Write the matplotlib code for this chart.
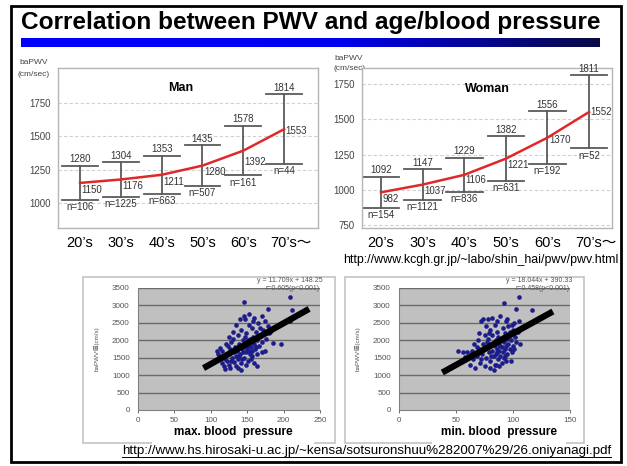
import matplotlib
matplotlib.use('Agg')
import matplotlib.pyplot as plt
import numpy as np
from matplotlib.colors import LinearSegmentedColormap
from matplotlib.patches import Rectangle
import matplotlib.transforms as mtrans

# ---------------- data ----------------
age_groups = ["20\u2019s", "30\u2019s", "40\u2019s", "50\u2019s", "60\u2019s", "70\u2019s\uff5e"]

man_mean = [1150, 1176, 1211, 1280, 1392, 1553]
man_upper = [1280, 1304, 1353, 1435, 1578, 1814]
man_n = [106, 1225, 663, 507, 161, 44]

woman_mean = [982, 1037, 1106, 1221, 1370, 1552]
woman_upper = [1092, 1147, 1229, 1382, 1556, 1811]
woman_n = [154, 1121, 836, 631, 192, 52]

age_yticks_man = [1000, 1250, 1500, 1750]
age_yticks_woman = [750, 1000, 1250, 1500, 1750]

sys_bp = [145, 209, 179, 211, 209, 186, 197, 163,
          108, 110, 112, 115, 113, 117, 118, 120, 122, 124, 121, 125, 127, 129, 126, 130,
          132, 128, 131, 133, 135, 134, 136, 138, 137, 139, 140, 141, 142, 143, 144, 145,
          146, 147, 148, 149, 150, 151, 152, 153, 154, 155, 156, 157, 158, 159, 160, 161,
          162, 163, 164, 165, 166, 168, 170, 172, 174, 176, 178, 180, 182, 140, 135, 130,
          125, 145, 152, 158, 148, 155, 160, 142, 137, 150, 146, 144, 153, 157, 141, 139,
          133, 147, 151, 154, 143, 149, 156, 162, 167, 171, 119, 116, 123, 128, 170, 175]
sys_pwv = [3085, 3250, 2910, 2865, 2560, 1910, 1890, 1250,
           1700, 1620, 1480, 1350, 1780, 1550, 1250, 1180, 1420, 1600, 1900, 1300, 1200, 1500, 1750, 1650,
           1380, 1950, 2050, 1820, 1550, 1250, 1700, 2150, 1450, 1900, 1600, 1350, 2300, 1750, 2000, 1500,
           1850, 2600, 1650, 2200, 1950, 1400, 2450, 1700, 2050, 1800, 2350, 1550, 2100, 1900, 2650, 1750,
           2250, 2000, 1600, 2500, 1850, 2150, 1950, 2300, 1700, 2050, 2400, 2200, 2250, 2600, 2450, 2250,
           2100, 2700, 2750, 2550, 1300, 1450, 1350, 1150, 1200, 1750, 1900, 1650, 1850, 1950, 1800, 1550,
           1700, 2100, 2000, 1600, 1450, 1800, 1700, 1800, 2350, 1650, 1450, 1700, 1850, 1400, 2700, 2550]

dia_bp = [92, 105, 103, 117, 105, 106, 52, 56, 58,
          62, 65, 64, 66, 68, 67, 69, 70, 71, 72, 73, 74, 75, 75, 76, 77, 78, 78, 79, 80,
          80, 81, 82, 82, 83, 84, 84, 85, 85, 86, 86, 87, 87, 88, 88, 89, 89, 90, 90, 91,
          91, 92, 92, 93, 93, 94, 94, 95, 95, 96, 96, 97, 97, 98, 99, 100, 100, 101, 102, 103,
          104, 88, 85, 80, 90, 83, 76, 74, 82, 86, 95, 99, 98, 70, 68, 72, 79, 84, 87, 91,
          93, 89, 86, 81, 77, 63, 60, 94, 97, 101]
dia_pwv = [3080, 3250, 2900, 2870, 2550, 1900, 1700, 1650, 1520,
           1300, 1450, 1700, 1900, 1550, 1200, 2000, 1750, 1350, 2550, 1600, 1900, 2150, 1250, 1500, 1800, 2600, 2050, 1650, 1400,
           2300, 1900, 1700, 2150, 1550, 2450, 1850, 2000, 1600, 1750, 2250, 1450, 2100, 1900, 1700, 2700, 1550, 2000, 1800, 1650,
           2350, 1950, 1500, 2200, 1750, 1850, 2550, 2050, 1600, 2400, 1900, 1750, 2150, 2000, 1650, 2300, 1850, 2500, 2100, 1950,
           2250, 1250, 1300, 1200, 1350, 1150, 2400, 2600, 2650, 2550, 2600, 2450, 1400, 2200, 1800, 1450, 2200, 1300, 1950, 2100,
           1550, 1850, 1650, 1550, 1950, 1600, 1650, 1400, 2250, 1750]

sys_fit = (11.709, 148.25)
dia_fit = (18.044, 390.33)
sys_fit_range = [90, 235]
dia_fit_range = [38, 135]
sys_r = "r=0.605(p<0.001)"
dia_r = "r=0.458(p<0.001)"

title = "Correlation between PWV and age/blood pressure"
url_top = "http://www.kcgh.gr.jp/~labo/shin_hai/pwv/pwv.html"
url_bottom = "http://www.hs.hirosaki-u.ac.jp/~kensa/sotsuronshuu%282007%29/26.oniyanagi.pdf"

# ---------------- figure ----------------
plt.rcParams['font.family'] = ['Liberation Sans', 'Noto Sans CJK JP', 'DejaVu Sans']
W, H = 627, 466
fig = plt.figure(figsize=(W / 100, H / 100), dpi=100)


def px_axes(x0, y0, x1, y1, **kw):
    return fig.add_axes([x0 / W, 1 - y1 / H, (x1 - x0) / W, (y1 - y0) / H], **kw)


bg = px_axes(0, 0, W, H)
bg.set_xlim(0, W)
bg.set_ylim(H, 0)
bg.axis('off')

bg.text(21, 23, title, fontsize=17.6, fontweight='bold', ha='left', va='center')
cmap = LinearSegmentedColormap.from_list('bar', [(0, '#0000ff'), (0.55, '#0000ee'), (1, '#0a0a45')])
bg.imshow(np.linspace(0, 1, 256)[None, :], extent=[21, 600, 47, 38], cmap=cmap, aspect='auto')
bg.set_xlim(0, W)
bg.set_ylim(H, 0)

# axis unit labels
for (x, y1, y2) in [(18, 62, 75), (333, 58, 69)]:
    bg.text(x + 1, y1, "baPWV", fontsize=6, color='#444444', ha='left', va='center')
    bg.text(x, y2, "(cm/sec)", fontsize=6, color='#444444', ha='left', va='center')

bg.text(618, 260, url_top, fontsize=8.9, ha='right', va='center')


def age_panel(box, xlim, ylim, yticks, means, uppers, ns, label, label_pos, mean_dy):
    ax = px_axes(*box)
    ax.set_xlim(*xlim)
    ax.set_ylim(*ylim)
    for s in ax.spines.values():
        s.set_color('#b5b5b5')
        s.set_linewidth(1.0)
    ax.set_xticks([])
    ax.set_yticks(yticks)
    ax.set_yticklabels([str(t) for t in yticks], fontsize=7, color='#444444')
    ax.tick_params(axis='y', length=0, pad=5)
    for t in yticks:
        ax.axhline(t, color='#d0d0d0', lw=0.8, ls=(0, (3, 2)), zorder=0)
    x = np.arange(len(means))
    for i, (m, u, n) in enumerate(zip(means, uppers, ns)):
        lo = 2 * m - u
        ax.plot([i, i], [lo, u], color='#5a5a5a', lw=1.3, zorder=2)
        ax.plot([i - 0.44, i + 0.44], [u, u], color='#5a5a5a', lw=1.3, zorder=2)
        ax.plot([i - 0.44, i + 0.44], [lo, lo], color='#5a5a5a', lw=1.3, zorder=2)
        ax.annotate(str(u), (i, u), xytext=(0, 1), textcoords='offset points',
                    ha='center', va='bottom', fontsize=7, color='#333333')
        ax.annotate(f"n={n}", (i, lo), xytext=(0, -1.5), textcoords='offset points',
                    ha='center', va='top', fontsize=7, color='#333333')
        ax.annotate(str(m), (i, m), xytext=(1, -mean_dy[i] * 0.72), textcoords='offset points',
                    ha='left', va='center', fontsize=7, color='#333333')
    ax.plot(x, means, color='#e02828', lw=1.8, zorder=3)
    ax.text(label_pos[0], label_pos[1], label, transform=ax.transAxes, ha='center', va='center',
            fontsize=9, fontweight='bold')
    trans = mtrans.blended_transform_factory(ax.transData, ax.transAxes)
    for i, g in enumerate(age_groups):
        if i < len(age_groups) - 1:
            ax.text(i, -0.094, g, transform=trans, ha='center', va='center', fontsize=10.5)
        else:
            ax.annotate(g, (i, -0.094), xycoords=trans, xytext=(-9.7, 0), textcoords='offset points',
                        ha='left', va='center', fontsize=10.5, annotation_clip=False)
    return ax


age_panel((58, 68, 318, 228), (-0.54, 5.83), (812, 2012), age_yticks_man,
          man_mean, man_upper, man_n, "Man", (0.47, 0.875), [7, 7, 7, 6, 11, 2])
age_panel((362, 68, 612, 228), (-0.457, 5.55), (729, 1864), age_yticks_woman,
          woman_mean, woman_upper, woman_n, "Woman", (0.5, 0.87), [7, 6, 5, 6, 2, 0])


def scatter_panel(frame, box, xmax, xs, ys, fit, fit_range, r_text, xlabel, label_box):
    fx0, fy0, fx1, fy1 = frame
    bg.add_patch(Rectangle((fx0, fy0), fx1 - fx0, fy1 - fy0, fill=True, facecolor='white',
                           edgecolor='#c4c4c4', lw=1.2, zorder=1))
    ax = px_axes(*box)
    ax.set_facecolor('#c0c0c0')
    ax.set_xlim(0, xmax)
    ax.set_ylim(0, 3500)
    ax.set_yticks(range(0, 3501, 500))
    ax.set_xticks(range(0, xmax + 1, 50))
    ax.tick_params(labelsize=5.8, colors='#555555', length=2, width=0.6, pad=3)
    ax.tick_params(axis='y', length=0, pad=6)
    for s in ['top', 'right']:
        ax.spines[s].set_visible(False)
    for s in ['left', 'bottom']:
        ax.spines[s].set_color('#808080')
        ax.spines[s].set_linewidth(0.8)
    for t in range(500, 3501, 500):
        ax.axhline(t, color='#6a6a6a', lw=1.0, zorder=1)
    ax.scatter(xs, ys, s=11, color='#1c1c8a', zorder=3, linewidths=0)
    fx = np.array(fit_range, dtype=float)
    ax.plot(fx, fit[0] * fx + fit[1], color='black', lw=4.5, solid_capstyle='butt', zorder=4)
    ax.set_ylabel("baPWV\u5024(cm/s)", fontsize=4.5, color='#555555', labelpad=9)
    ax.text(1.015, 1.06, f"y = {fit[0]:.3f}x + {fit[1]:.2f}", transform=ax.transAxes,
            ha='right', va='center', fontsize=5, color='#555555')
    ax.text(1.0, 0.995, r_text, transform=ax.transAxes,
            ha='right', va='center', fontsize=5, color='#555555')
    lx0, ly0, lx1, ly1 = label_box
    bg.add_patch(Rectangle((lx0, ly0), lx1 - lx0, ly1 - ly0, facecolor='white', edgecolor='none', zorder=2))
    bg.text((lx0 + lx1) / 2, 432, xlabel, ha='center', va='center', fontsize=8.5, fontweight='bold', zorder=3)
    return ax


scatter_panel((83, 277, 335, 443), (138, 288, 320, 410), 250, sys_bp, sys_pwv, sys_fit, sys_fit_range,
              sys_r, "max. blood  pressure", (152, 422, 314, 446))
scatter_panel((345, 277, 584, 443), (399, 288, 570, 410), 150, dia_bp, dia_pwv, dia_fit, dia_fit_range,
              dia_r, "min. blood  pressure", (432, 422, 566, 446))

# overlay: bottom URL + slide border
ov = px_axes(0, 0, W, H)
ov.set_xlim(0, W)
ov.set_ylim(H, 0)
ov.axis('off')
ov.patch.set_alpha(0)
t = ov.text(122, 451, url_bottom, fontsize=9.6, ha='left', va='center', zorder=1)
fig.canvas.draw()
bb = t.get_window_extent().transformed(ov.transData.inverted())
ov.plot([bb.x0, bb.x1], [457, 457], color='black', lw=0.7, zorder=1)
ov.add_patch(Rectangle((621, 0), 10, H, facecolor='white', edgecolor='none', zorder=2))
ov.add_patch(Rectangle((11, 6), 610, 456, fill=False, edgecolor='black', lw=2.0, zorder=3))

fig.savefig('out.png', dpi=100)
